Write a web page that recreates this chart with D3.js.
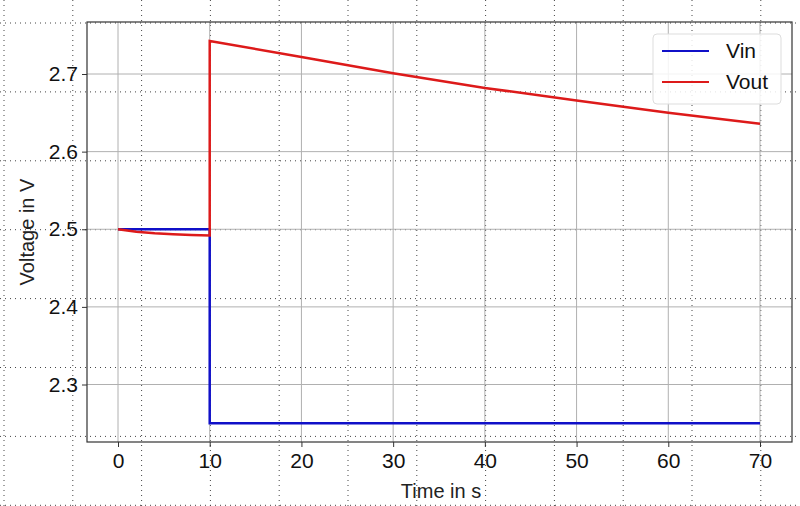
<!DOCTYPE html><html><head><script src="https://cdn.jsdelivr.net/npm/d3@7"></script>
<style>body{margin:0;background:#fff}text{font-family:"Liberation Sans",Arial,sans-serif}</style></head><body><svg id="c" width="800" height="506"></svg><script>
const xTicks=[0,10,20,30,40,50,60,70];
const yTicks=[2.3,2.4,2.5,2.6,2.7];
const vinT=[0,10,10,70];
const vinV=[2.5,2.5,2.25,2.25];
const voutT=[0,2,4,6,8,10,10,20,30,40,50,60,70];
const voutV=[2.5,2.4968,2.4948,2.4935,2.4926,2.492,2.7425,2.722,2.701,2.682,2.666,2.650,2.636];
const svg=d3.select("#c");
const bx=d3.range(4,800,68.8), by=d3.range(23,507,68.9);
svg.append("g").selectAll("line").data(bx).join("line").attr("x1",d=>d).attr("x2",d=>d).attr("y1",0).attr("y2",506).attr("stroke","#444").attr("stroke-width",1).attr("stroke-dasharray","1,4");
svg.append("g").selectAll("line").data(by).join("line").attr("y1",d=>d).attr("y2",d=>d).attr("x1",0).attr("x2",800).attr("stroke","#444").attr("stroke-width",1).attr("stroke-dasharray","1,4");
const L=87,R=792,T=22,B=442;
const x=d3.scaleLinear().domain([0,70]).range([118,760]);
const y=d3.scaleLinear().domain([2.3,2.7]).range([384.5,74]);
const g=svg.append("g");
g.selectAll(".gx").data(xTicks).join("line").attr("x1",d=>x(d)).attr("x2",d=>x(d)).attr("y1",T).attr("y2",B).attr("stroke","#b0b0b0");
g.selectAll(".gy").data(yTicks).join("line").attr("y1",d=>y(d)).attr("y2",d=>y(d)).attr("x1",L).attr("x2",R).attr("stroke","#b0b0b0");
svg.append("rect").attr("x",L).attr("y",T).attr("width",R-L).attr("height",B-T).attr("fill","none").attr("stroke","#333").attr("stroke-width",1.2);
const xa=svg.append("g").attr("transform",`translate(0,${B})`).call(d3.axisBottom(x).tickValues(xTicks).tickSize(5).tickPadding(6));
const ya=svg.append("g").attr("transform",`translate(${L},0)`).call(d3.axisLeft(y).tickValues(yTicks).tickFormat(d3.format(".1f")).tickSize(5).tickPadding(4));
[xa,ya].forEach(a=>{a.select(".domain").remove();a.selectAll("text").attr("font-size",21).attr("fill","#111");a.selectAll("line").attr("stroke","#333");});
const line=d3.line().x(d=>x(d[0])).y(d=>y(d[1]));
svg.append("path").attr("d",line(vinT.map((t,i)=>[t,vinV[i]]))).attr("fill","none").attr("stroke","#1010c8").attr("stroke-width",2.5);
svg.append("path").attr("d",line(voutT.map((t,i)=>[t,voutV[i]]))).attr("fill","none").attr("stroke","#dd1a1a").attr("stroke-width",2.5);
svg.append("text").attr("x",441).attr("y",498).attr("text-anchor","middle").attr("font-size",20).attr("fill","#222").text("Time in s");
svg.append("text").attr("transform","translate(34,232) rotate(-90)").attr("text-anchor","middle").attr("font-size",20).attr("fill","#222").text("Voltage in V");
const lg=svg.append("g");
lg.append("rect").attr("x",653).attr("y",34).attr("width",128).attr("height",70).attr("rx",4).attr("fill","#fff").attr("fill-opacity",0.85).attr("stroke","#ddd");
[["Vin","#1010c8",51],["Vout","#dd1a1a",82]].forEach(([n,c,yy])=>{
lg.append("line").attr("x1",662).attr("x2",709).attr("y1",yy).attr("y2",yy).attr("stroke",c).attr("stroke-width",2.2);
lg.append("text").attr("x",726).attr("y",yy+7).attr("font-size",21).attr("fill","#111").text(n);});
</script></body></html>
